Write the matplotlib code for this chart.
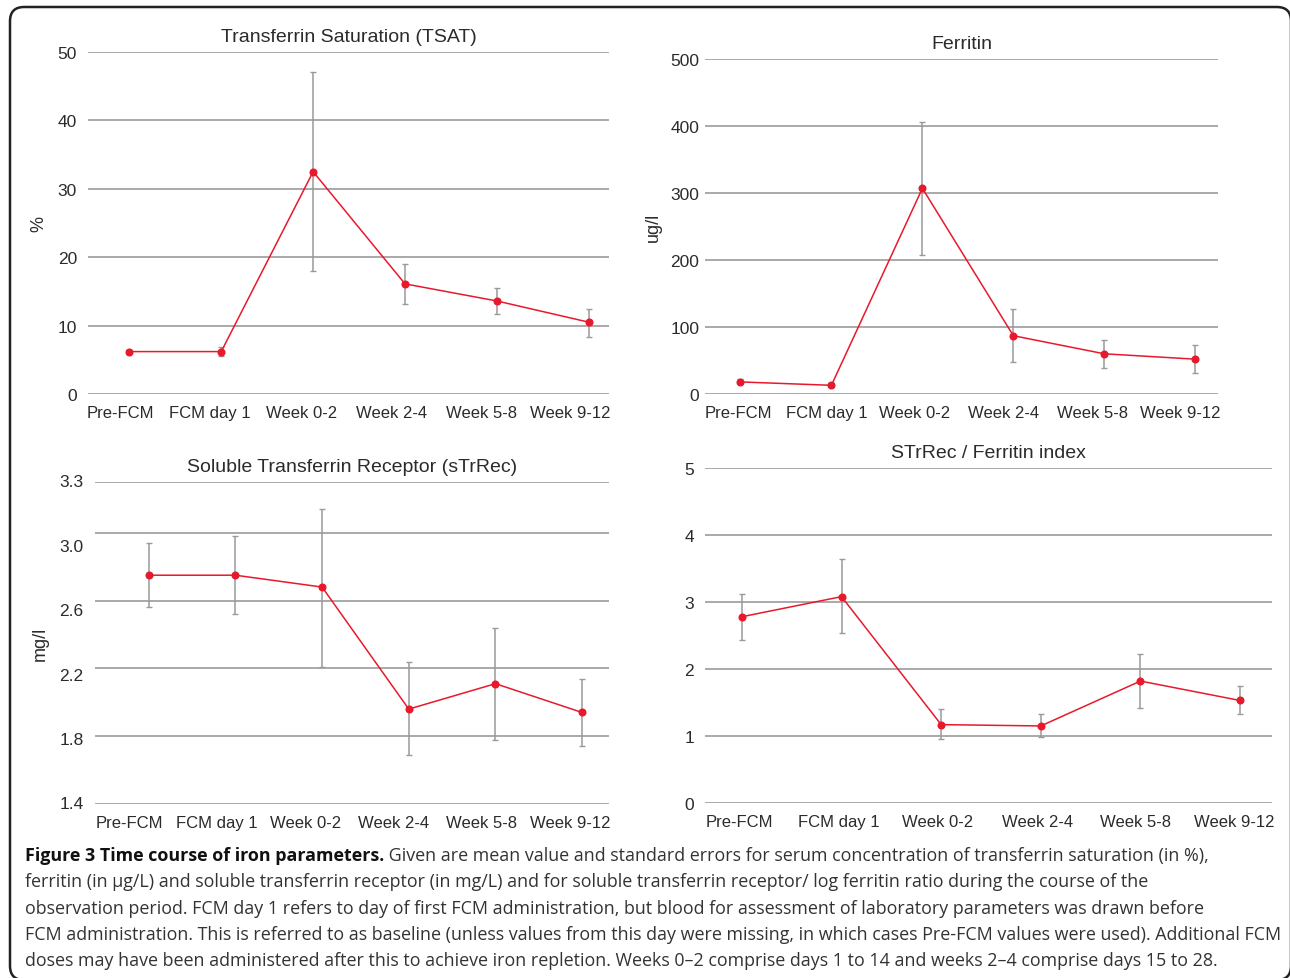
import numpy as np
import matplotlib
matplotlib.use("Agg")
import matplotlib.pyplot as plt
from matplotlib.patches import FancyBboxPatch

# ---------------- data ----------------
categories = ['Pre-FCM', 'FCM day 1', 'Week 0-2', 'Week 2-4', 'Week 5-8', 'Week 9-12']

tsat_mean = [6.2, 6.2, 32.5, 16.1, 13.6, 10.5]
tsat_low = [5.8, 5.6, 18.0, 13.2, 11.7, 8.4]
tsat_high = [6.5, 6.8, 47.1, 19.0, 15.5, 12.5]
tsat_ticks = [0, 10, 20, 30, 40, 50]

ferritin_mean = [18, 13, 307, 87, 60, 52]
ferritin_low = [15, 11, 208, 48, 39, 32]
ferritin_high = [22, 16, 406, 127, 81, 73]
ferritin_ticks = [0, 100, 200, 300, 400, 500]

strec_mean = [2.75, 2.75, 2.68, 1.96, 2.11, 1.94]
strec_low = [2.56, 2.52, 2.21, 1.69, 1.78, 1.74]
strec_high = [2.94, 2.98, 3.14, 2.24, 2.44, 2.14]
strec_grid = [1.4, 1.8, 2.2, 2.6, 3.0, 3.3]
strec_labels = ['1.4', '1.8', '2.2', '2.6', '3.0', '3.3']

index_mean = [2.78, 3.08, 1.17, 1.15, 1.82, 1.53]
index_low = [2.44, 2.53, 0.95, 0.99, 1.42, 1.33]
index_high = [3.12, 3.64, 1.40, 1.33, 2.22, 1.75]
index_ticks = [0, 1, 2, 3, 4, 5]

caption_bold = "Figure 3 Time course of iron parameters."
caption_lines = [
    " Given are mean value and standard errors for serum concentration of transferrin saturation (in %),",
    "ferritin (in \u00b5g/L) and soluble transferrin receptor (in mg/L) and for soluble transferrin receptor/ log ferritin ratio during the course of the",
    "observation period. FCM day 1 refers to day of first FCM administration, but blood for assessment of laboratory parameters was drawn before",
    "FCM administration. This is referred to as baseline (unless values from this day were missing, in which cases Pre-FCM values were used). Additional FCM",
    "doses may have been administered after this to achieve iron repletion. Weeks 0\u20132 comprise days 1 to 14 and weeks 2\u20134 comprise days 15 to 28.",
]

# ---------------- style ----------------
W, H = 1290, 979
plt.rcParams['font.family'] = ['Liberation Sans', 'DejaVu Sans']
TXT = '#2b2b2b'
RED = '#e8192c'
GRID = '#a9a9a9'
ERR = '#9a9a9a'

fig = plt.figure(figsize=(W / 100, H / 100), dpi=100)


def px_axes(left, top, right, bottom):
    return fig.add_axes([left / W, 1 - bottom / H, (right - left) / W, (bottom - top) / H])


def style_panel(ax, mean, low, high, xlim, ylim, title, label_shift,
                ylabel=None, ylabel_x=-0.09):
    x = np.arange(len(categories))
    m = np.array(mean, float)
    yerr = np.vstack([m - np.array(low, float), np.array(high, float) - m])
    ax.errorbar(x, m, yerr=yerr, fmt='none', ecolor=ERR, elinewidth=1.1,
                capsize=2.3, capthick=1.0, zorder=3)
    ax.plot(x, m, color=RED, lw=1.1, marker='o', ms=4.8, mfc=RED, mec=RED, zorder=4)
    ax.set_xlim(*xlim)
    ax.set_ylim(*ylim)
    # tick labels placed slightly off the point positions, as in the original layout
    ax.set_xticks(x + np.array(label_shift))
    ax.set_xticklabels(categories, fontsize=12, color=TXT)
    ax.tick_params(axis='both', length=0)
    ax.tick_params(axis='x', pad=8)
    ax.tick_params(axis='y', pad=8, labelsize=12.5, labelcolor=TXT)
    for s in ax.spines.values():
        s.set_visible(False)
    ax.yaxis.grid(True, color=GRID, lw=1.4)
    ax.set_axisbelow(True)
    ax.set_title(title, fontsize=14, color=TXT, pad=8)
    if ylabel:
        ax.set_ylabel(ylabel, fontsize=13, color=TXT)
        ax.yaxis.set_label_coords(ylabel_x, 0.5)
    ax.patch.set_visible(False)


# TSAT
ax1 = px_axes(88, 53, 609, 395)
ax1.set_yticks(tsat_ticks)
style_panel(ax1, tsat_mean, tsat_low, tsat_high, (-0.45, 5.22), (0, 50),
            'Transferrin Saturation (TSAT)',
            [-0.10, -0.12, -0.13, -0.15, -0.17, -0.20], '%', -0.078)

# Ferritin
ax2 = px_axes(705, 60, 1218, 395)
ax2.set_yticks(ferritin_ticks)
style_panel(ax2, ferritin_mean, ferritin_low, ferritin_high, (-0.39, 5.25), (0, 500),
            'Ferritin',
            [-0.02, -0.055, -0.09, -0.11, -0.13, -0.16], 'ug/l', -0.084)
ax2.tick_params(axis='y', pad=4)

# sTrRec
ax3 = px_axes(95, 483, 609, 805)
ax3.set_yticks(strec_grid)
style_panel(ax3, strec_mean, strec_low, strec_high, (-0.62, 5.31), (1.4, 3.3),
            'Soluble Transferrin Receptor (sTrRec)',
            [-0.22, -0.215, -0.19, -0.17, -0.16, -0.14], 'mg/l', -0.089)
ax3.set_yticklabels([''] * len(strec_grid))
for frac, lab in zip(np.linspace(0, 1, len(strec_labels)), strec_labels):
    ax3.text(-0.022, frac, lab, transform=ax3.transAxes, ha='right', va='center',
             fontsize=12.5, color=TXT)

# Index
ax4 = px_axes(705, 469, 1272, 804)
ax4.set_yticks(index_ticks)
style_panel(ax4, index_mean, index_low, index_high, (-0.37, 5.32), (0, 5),
            'STrRec / Ferritin index',
            [-0.03, -0.03, -0.04, -0.03, -0.05, -0.06])

# ---------------- border ----------------
border = FancyBboxPatch((10 / W, 1 - 981 / H), (1291 - 10) / W, (981 - 8) / H,
                        boxstyle="round,pad=0,rounding_size=0.011",
                        transform=fig.transFigure, fill=False, ec='#222222', lw=1.8,
                        mutation_aspect=W / H, clip_on=False)
fig.patches.append(border)

# ---------------- caption ----------------
cap_family = ['Open Sans', 'Liberation Sans', 'DejaVu Sans']
baselines = [861, 887, 914, 940, 966]
x0 = 25
renderer = fig.canvas.get_renderer()
fs = 12.0
probe = fig.text(x0 / W, 0.5, caption_lines[3], fontsize=fs, family=cap_family)
wpx = probe.get_window_extent(renderer).width
probe.remove()
fs = fs * (1277 - x0) / wpx

tb = fig.text(x0 / W, 1 - baselines[0] / H, caption_bold, fontsize=fs, family=cap_family,
              weight='bold', color='#111111', va='baseline', ha='left')
bw = tb.get_window_extent(renderer).width
fig.text((x0 + bw) / W, 1 - baselines[0] / H, caption_lines[0], fontsize=fs,
         family=cap_family, color='#333333', va='baseline', ha='left')
for line, yb in zip(caption_lines[1:], baselines[1:]):
    fig.text(x0 / W, 1 - yb / H, line, fontsize=fs, family=cap_family, color='#333333',
             va='baseline', ha='left')

fig.savefig('out.png', dpi=100, facecolor='white')
